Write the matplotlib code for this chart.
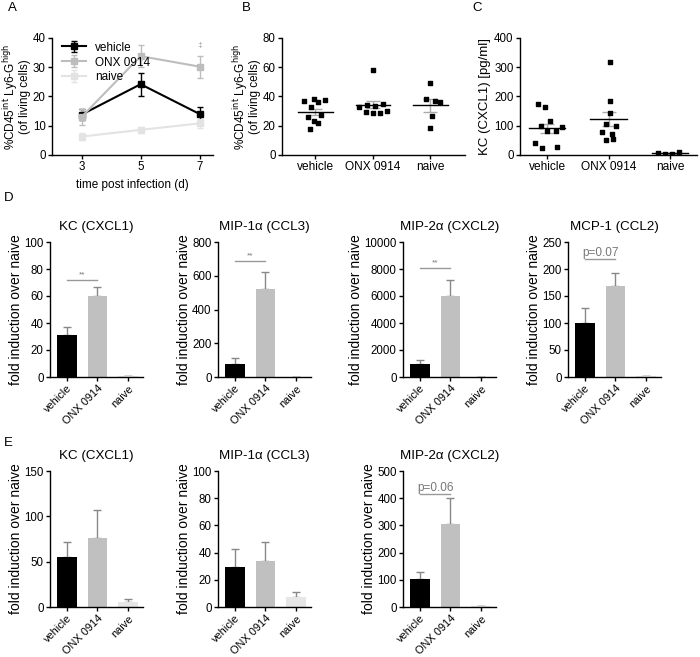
import numpy as np
import matplotlib.pyplot as plt

plt.rcParams['font.family'] = ['Liberation Sans', 'DejaVu Sans']
plt.rcParams['axes.linewidth'] = 1.0

groups = ['vehicle', 'ONX 0914', 'naive']
bar_colors = ['#000000', '#c0c0c0', '#e6e6e6']

# panel A: time course
days = [3, 5, 7]
a_vehicle = [13.8, 24.2, 14.0]
a_vehicle_err = [1.8, 4.0, 2.5]
a_onx = [13.0, 33.8, 30.2]
a_onx_err = [2.8, 3.8, 3.8]
a_naive = [6.3, 8.6, 10.8]
a_naive_err = [1.2, 1.0, 1.5]

# panel B: neutrophils per animal
b_vehicle = [36.8, 38.2, 36.4, 37.7, 33.0, 26.1, 27.3, 23.0, 22.0, 17.7]
b_vehicle_jit = [-0.2, -0.02, 0.05, 0.17, -0.07, -0.13, 0.1, -0.02, 0.04, -0.09]
b_onx = [58.0, 33.0, 34.5, 33.4, 34.8, 29.3, 28.4, 28.9, 29.8]
b_onx_jit = [0.0, -0.24, -0.1, 0.03, 0.17, -0.12, 0.0, 0.12, 0.25]
b_naive = [49.5, 38.0, 36.8, 36.4, 26.8, 18.2]
b_naive_jit = [0.0, -0.08, 0.08, 0.17, 0.02, 0.0]
b_mean = [29.5, 34.5, 34.0]
b_sem = [2.0, 2.5, 4.5]

# panel C: KC protein
c_vehicle = [176, 165, 115, 99, 97, 83, 83, 42, 23, 27]
c_vehicle_jit = [-0.14, -0.03, 0.05, -0.1, 0.24, 0.0, 0.15, -0.2, -0.09, 0.17]
c_onx = [318, 184, 144, 105, 99, 80, 72, 51, 53]
c_onx_jit = [0.02, 0.03, 0.02, -0.04, 0.12, -0.11, 0.06, -0.04, 0.07]
c_naive = [8, 3, 3, 10]
c_naive_jit = [-0.19, -0.08, 0.04, 0.14]
c_mean = [91, 123, 6]
c_sem = [16, 24, 2]

# panel D: fold induction
d_titles = ['KC (CXCL1)', 'MIP-1\u03b1 (CCL3)', 'MIP-2\u03b1 (CXCL2)', 'MCP-1 (CCL2)']
d_values = [[31, 60, 1], [80, 520, 1], [950, 6000, 5], [100, 168, 1]]
d_errors = [[6, 7, 0], [30, 100, 0], [330, 1150, 0], [27, 24, 0]]
d_ymax = [100, 800, 10000, 250]
d_yticks = [[0, 20, 40, 60, 80, 100], [0, 200, 400, 600, 800],
            [0, 2000, 4000, 6000, 8000, 10000], [0, 50, 100, 150, 200, 250]]
d_sig = ['**', '**', '**', 'p=0.07']
d_sig_y = [72, 687, 8100, 218]

# panel E: fold induction
e_titles = ['KC (CXCL1)', 'MIP-1\u03b1 (CCL3)', 'MIP-2\u03b1 (CXCL2)']
e_values = [[55, 76, 6], [29.5, 34, 7], [102, 305, 3]]
e_errors = [[17, 31, 3], [13, 13.5, 4], [28, 95, 0]]
e_ymax = [150, 100, 500]
e_yticks = [[0, 50, 100, 150], [0, 20, 40, 60, 80, 100], [0, 100, 200, 300, 400, 500]]
e_sig = [None, None, 'p=0.06']
e_sig_y = [None, None, 415]

W, H = 700, 657
fig = plt.figure(figsize=(7, 6.57), dpi=100)


def add_ax(l, r, t, b):
    return fig.add_axes([l / W, 1 - b / H, (r - l) / W, (b - t) / H])


def style(ax):
    for s in ['top', 'right']:
        ax.spines[s].set_visible(False)
    ax.tick_params(labelsize=8.3, length=3, width=1, pad=1.5)


ylab_cd = '%CD45$^{\\mathrm{int}}$ Ly6-G$^{\\mathrm{high}}$\n(of living cells)'

# A
ax = add_ax(52, 213, 38, 155)
style(ax)
for vals, errs, col, lab in [(a_vehicle, a_vehicle_err, '#000000', 'vehicle'),
                             (a_onx, a_onx_err, '#bdbdbd', 'ONX 0914'),
                             (a_naive, a_naive_err, '#e3e3e3', 'naive')]:
    ax.errorbar(days, vals, yerr=errs, color=col, marker='s', ms=4, lw=1.5,
                capsize=2.5, elinewidth=1, label=lab)
ax.text(7, 37.5, '\u2021', ha='center', va='center', fontsize=6, color='#999999')
ax.set_xlim(2, 7.45)
ax.set_ylim(0, 40)
ax.set_xticks(days)
ax.set_yticks([0, 10, 20, 30, 40])
ax.set_xlabel('time post infection (d)', fontsize=8.5)
ax.set_ylabel(ylab_cd, fontsize=8.5, labelpad=1, linespacing=0.9)
ax.legend(loc='upper left', frameon=False, fontsize=8.5, handlelength=2.0,
          borderaxespad=0.2, labelspacing=0.25, bbox_to_anchor=(0.02, 1.03))


def scatter_panel(ax, sets, means, sems):
    for i, (vals, jit) in enumerate(sets):
        ax.scatter(np.array(jit) + i, vals, marker='s', s=10, color='black', zorder=3)
        ax.plot([i - 0.3, i + 0.3], [means[i], means[i]], color='black', lw=1, zorder=2)
        ax.errorbar([i], [means[i]], yerr=[sems[i]], color='#aaaaaa', capsize=5,
                    elinewidth=1, lw=0, zorder=1)
    ax.set_xticks(range(3))
    ax.set_xticklabels(groups, fontsize=8.6)


# B
ax = add_ax(282, 465, 38, 155)
style(ax)
scatter_panel(ax, [(b_vehicle, b_vehicle_jit), (b_onx, b_onx_jit), (b_naive, b_naive_jit)],
              b_mean, b_sem)
ax.set_xlim(-0.58, 2.6)
ax.set_ylim(0, 80)
ax.set_yticks([0, 20, 40, 60, 80])
ax.set_ylabel(ylab_cd, fontsize=8.5, labelpad=1, linespacing=0.9)

# C
ax = add_ax(520, 697, 38, 155)
style(ax)
scatter_panel(ax, [(c_vehicle, c_vehicle_jit), (c_onx, c_onx_jit), (c_naive, c_naive_jit)],
              c_mean, c_sem)
ax.set_xlim(-0.44, 2.44)
ax.set_ylim(0, 400)
ax.set_yticks([0, 100, 200, 300, 400])
ax.set_ylabel('KC (CXCL1) [pg/ml]', fontsize=9.5, labelpad=2)


def bar_panel(ax, title, vals, errs, ymax, yticks, sig, sig_y):
    style(ax)
    x = np.arange(3)
    ax.bar(x, vals, width=0.65, color=bar_colors, edgecolor='none', zorder=2)
    ax.errorbar(x, vals, yerr=[np.zeros(3), errs], fmt='none', ecolor='#888888',
                capsize=3, elinewidth=1, zorder=1)
    ax.set_xlim(-0.56, 2.5)
    ax.set_ylim(0, ymax)
    ax.set_yticks(yticks)
    ax.set_xticks(x)
    ax.set_xticklabels(groups, rotation=45, ha='right', rotation_mode='anchor', fontsize=7.9)
    ax.set_ylabel('fold induction over naive', fontsize=10, labelpad=1)
    ax.set_title(title, fontsize=9.6, pad=9)
    if sig is not None:
        ax.plot([0, 1], [sig_y, sig_y], color='#999999', lw=1)
        if sig == '**':
            ax.text(0.5, sig_y + ymax * 0.01, sig, ha='center', va='bottom', fontsize=6,
                    color='#777777')
        else:
            ax.text(0.5, sig_y + ymax * 0.003, sig, ha='center', va='bottom', fontsize=8.5,
                    color='#777777')


d_lefts = [50, 218, 403, 568]
for i in range(4):
    ax = add_ax(d_lefts[i], d_lefts[i] + 93, 242, 377)
    bar_panel(ax, d_titles[i], d_values[i], d_errors[i], d_ymax[i], d_yticks[i],
              d_sig[i], d_sig_y[i])

for i in range(3):
    ax = add_ax(d_lefts[i], d_lefts[i] + 93, 471, 607)
    bar_panel(ax, e_titles[i], e_values[i], e_errors[i], e_ymax[i], e_yticks[i],
              e_sig[i], e_sig_y[i])

for lab, x, y in [('A', 8, 8), ('B', 242, 8), ('C', 472, 8), ('D', 4, 198), ('E', 4, 443)]:
    fig.text(x / W, 1 - y / H, lab, fontsize=9.5, va='center', ha='left')

fig.savefig('out.png', dpi=100)
